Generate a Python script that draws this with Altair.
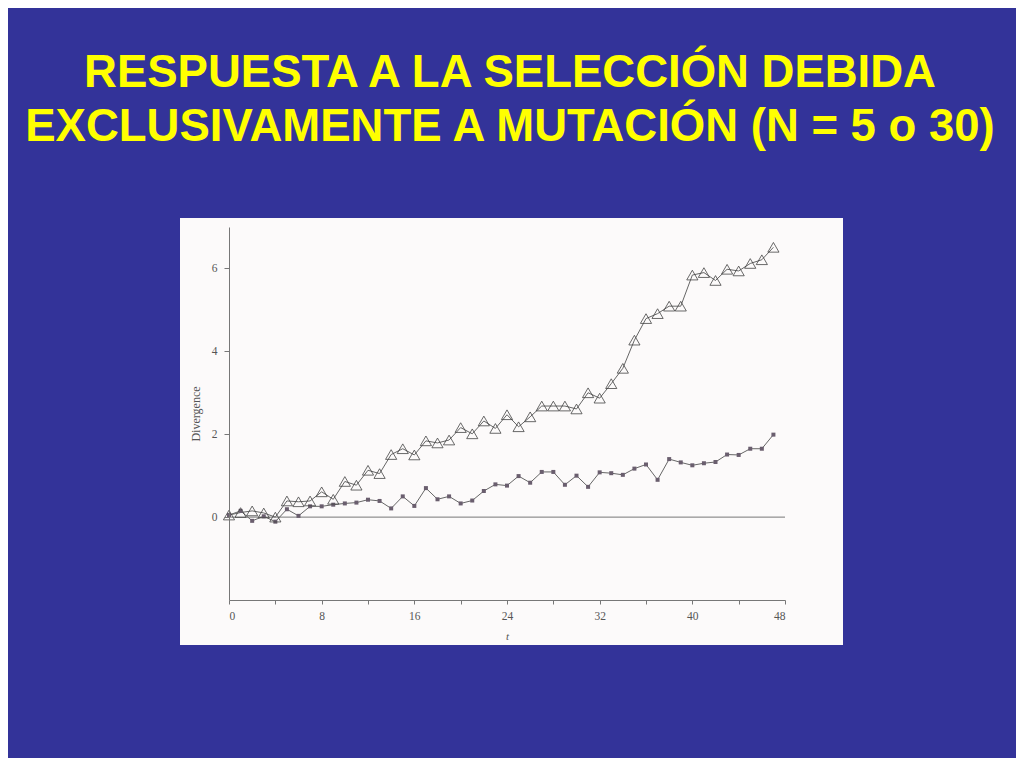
import altair as alt
import pandas as pd

t = list(range(48))
# upper series (open triangles)
tri = [0.05, 0.11, 0.15, 0.10, 0.00, 0.39, 0.37, 0.39, 0.61, 0.43,
       0.86, 0.77, 1.13, 1.05, 1.51, 1.65, 1.50, 1.84, 1.79, 1.86,
       2.16, 2.01, 2.32, 2.14, 2.47, 2.18, 2.42, 2.68, 2.68, 2.68,
       2.61, 3.00, 2.87, 3.22, 3.59, 4.27, 4.79, 4.91, 5.09, 5.09,
       5.84, 5.90, 5.71, 5.98, 5.94, 6.12, 6.21, 6.51]
# lower series (small filled squares)
sq = [0.05, 0.15, -0.09, 0.02, -0.11, 0.19, 0.03, 0.26, 0.26, 0.30,
      0.33, 0.35, 0.42, 0.39, 0.21, 0.50, 0.27, 0.70, 0.43, 0.50,
      0.33, 0.40, 0.63, 0.79, 0.76, 0.99, 0.83, 1.09, 1.09, 0.78,
      1.00, 0.73, 1.08, 1.06, 1.02, 1.17, 1.27, 0.90, 1.40, 1.32,
      1.25, 1.30, 1.33, 1.51, 1.50, 1.65, 1.65, 1.99]

title_lines = ["RESPUESTA A LA SELECCIÓN DEBIDA",
               "EXCLUSIVAMENTE A MUTACIÓN (N = 5 o 30)"]

df_tri = pd.DataFrame({"t": t, "d": tri})
df_sq = pd.DataFrame({"t": t, "d": sq})

xs = alt.Scale(domain=[0, 48], nice=False, zero=False)
ys = alt.Scale(domain=[-2, 7], nice=False, zero=False)

xax = alt.Axis(values=list(range(0, 49, 4)),
               labelExpr="datum.value % 8 == 0 ? datum.label : ''",
               title="t", titleFontStyle="italic", titleFontWeight="normal",
               titleFont="Liberation Serif", titleFontSize=11, titleColor="#555",
               titlePadding=9,
               labelFont="Liberation Serif", labelFontSize=11.5, labelColor="#555",
               labelPadding=6, zindex=2,
               domainColor="#777", tickColor="#777", tickSize=4, grid=False)
yax = alt.Axis(values=[0, 2, 4, 6], title="Divergence",
               titleFont="Liberation Serif", titleFontWeight="normal",
               titleFontSize=12, titleColor="#555", titlePadding=9,
               labelFont="Liberation Serif", labelFontSize=11.5, labelColor="#555",
               labelPadding=7, zindex=2,
               domainColor="#777", tickColor="#777", tickSize=5, grid=False)

panel = alt.Chart(pd.DataFrame({"a": [0]})).mark_rect(
    color="#fcfafa", stroke=None
).encode(
    x=alt.value(-49), x2=alt.value(614),
    y=alt.value(-9), y2=alt.value(418)
)

zero = alt.Chart(pd.DataFrame({"a": [0]})).mark_rule(
    color="#777", strokeWidth=1
).encode(
    x=alt.datum(0, scale=xs, axis=xax),
    x2=alt.datum(48),
    y=alt.datum(0, scale=ys, axis=yax)
)

base_tri = alt.Chart(df_tri).encode(
    x=alt.X("t:Q", scale=xs, axis=xax),
    y=alt.Y("d:Q", scale=ys, axis=yax)
)
line_tri = base_tri.mark_line(color="#666", strokeWidth=1)
pts_tri = base_tri.mark_point(shape="triangle-up", size=125, filled=False,
                              color="#444", strokeWidth=0.8, opacity=1)

base_sq = alt.Chart(df_sq).encode(
    x=alt.X("t:Q", scale=xs, axis=xax),
    y=alt.Y("d:Q", scale=ys, axis=yax)
)
line_sq = base_sq.mark_line(color="#666", strokeWidth=1)
pts_sq = base_sq.mark_point(shape="square", size=16, filled=True,
                            color="#6a5e6e", opacity=1)

chart = alt.layer(panel, zero, line_tri, line_sq, pts_sq, pts_tri).properties(
    width=556, height=373,
    autosize=alt.AutoSizeParams(type="none"),
    padding={"left": 221, "top": 219, "right": 231, "bottom": 158},
    background="#333399",
    title=alt.TitleParams(
        text=title_lines, color="#ffff00", font="Liberation Sans",
        fontWeight="bold", fontSize=45.5, lineHeight=54,
        anchor="middle", frame="group", offset=68, dx=3
    )
).configure_view(stroke=None)

chart.save("out.html", embed_options={"renderer": "svg", "actions": False})
